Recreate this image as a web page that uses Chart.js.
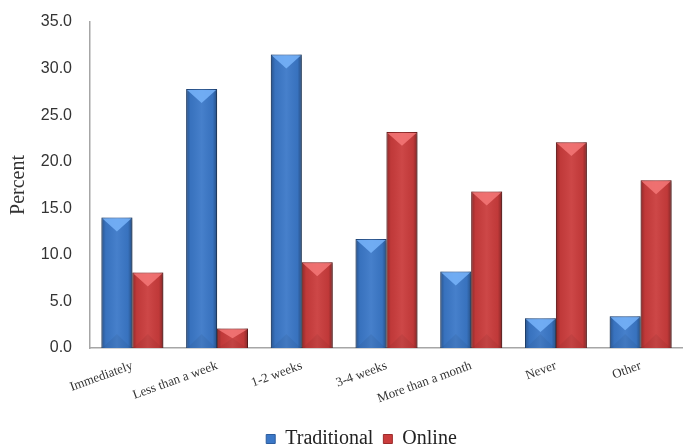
<!DOCTYPE html>
<html>
<head>
<meta charset="utf-8">
<script src="https://cdn.jsdelivr.net/npm/chart.js@4.4.1/dist/chart.umd.min.js"></script>
<style>
  html, body { margin: 0; padding: 0; background: #fff; }
  #wrap { width: 683px; height: 447px; }
</style>
</head>
<body>
<div id="wrap"><canvas id="chart"></canvas></div>
<script>
const categories = ['Immediately', 'Less than a week', '1-2 weeks', '3-4 weeks', 'More than a month', 'Never', 'Other'];
const traditional = [14.0, 27.8, 31.5, 11.7, 8.2, 3.2, 3.4];
const online = [8.1, 2.1, 9.2, 23.2, 16.8, 22.1, 18.0];
const yTicks = [0, 5, 10, 15, 20, 25, 30, 35];

// light bevel colour per dataset
const bevel = ['rgba(120,180,250,0.85)', 'rgba(245,120,120,0.85)'];

const bevelBars = {
  id: 'bevelBars',
  afterLayout(chart) {
    // legend sits a little right of the canvas centre
    chart.legend.left += 20;
    chart.legend.right += 20;
  },
  beforeDatasetDraw(chart) {
    const ctx = chart.ctx;
    ctx.save();
    ctx.shadowColor = 'rgba(0,0,0,0.35)';
    ctx.shadowBlur = 4;
    ctx.shadowOffsetX = 1;
    ctx.shadowOffsetY = 1;
  },
  afterDatasetDraw(chart, args) {
    const ctx = chart.ctx;
    ctx.restore();
    const meta = args.meta;
    meta.data.forEach(bar => {
      const w = bar.width;
      const left = bar.x - w / 2;
      const right = bar.x + w / 2;
      const top = bar.y;
      const h = bar.base - bar.y;
      // side shading
      const g = ctx.createLinearGradient(left, 0, right, 0);
      g.addColorStop(0, 'rgba(0,0,0,0.30)');
      g.addColorStop(0.14, 'rgba(0,0,0,0.05)');
      g.addColorStop(0.5, 'rgba(255,255,255,0.06)');
      g.addColorStop(0.86, 'rgba(0,0,0,0.05)');
      g.addColorStop(1, 'rgba(0,0,0,0.35)');
      ctx.fillStyle = g;
      ctx.fillRect(left, top, w, h);
      // top chevron
      const th = Math.min(w * 0.45, h * 0.5);
      ctx.beginPath();
      ctx.moveTo(left + 1, top + 1);
      ctx.lineTo(right - 1, top + 1);
      ctx.lineTo(bar.x, top + th);
      ctx.closePath();
      ctx.fillStyle = bevel[args.index];
      ctx.fill();
      // bottom chevron, faint
      ctx.beginPath();
      ctx.moveTo(left + 1, bar.base);
      ctx.lineTo(right - 1, bar.base);
      ctx.lineTo(bar.x, bar.base - th);
      ctx.closePath();
      ctx.fillStyle = 'rgba(0,0,0,0.05)';
      ctx.fill();
    });
  }
};

new Chart(document.getElementById('chart'), {
  type: 'bar',
  data: {
    labels: categories,
    datasets: [
      {
        label: 'Traditional',
        data: traditional,
        backgroundColor: '#3b78c8',
        borderColor: '#2d5d9e',
        borderWidth: 1,
        categoryPercentage: 0.73,
        barPercentage: 1.0
      },
      {
        label: 'Online',
        data: online,
        backgroundColor: '#ca3c3c',
        borderColor: '#9c2b2b',
        borderWidth: 1,
        categoryPercentage: 0.73,
        barPercentage: 1.0
      }
    ]
  },
  options: {
    responsive: true,
    maintainAspectRatio: false,
    animation: false,
    layout: { padding: { top: 22, right: 0, left: 0, bottom: -12 } },
    plugins: {
      tooltip: { enabled: false },
      legend: {
        position: 'bottom',
        labels: {
          boxWidth: 9,
          boxHeight: 9,
          padding: 10,
          color: '#222',
          font: { family: 'Liberation Serif', size: 20 }
        }
      }
    },
    scales: {
      x: {
        grid: { display: false, drawTicks: false },
        border: { display: true, color: '#a6a6a6', width: 1.5 },
        ticks: {
          color: '#333',
          padding: 10,
          minRotation: 20,
          maxRotation: 20,
          autoSkip: false,
          font: { family: 'Liberation Serif', size: 13 }
        },
        afterFit(axis) { axis.height = 71; }
      },
      y: {
        min: 0,
        max: 35,
        afterBuildTicks(axis) { axis.ticks = yTicks.map(v => ({ value: v })); },
        grid: { display: false, drawTicks: false },
        border: { display: true, color: '#a6a6a6', width: 1.5 },
        ticks: {
          color: '#333',
          padding: 18,
          font: { family: 'Liberation Sans', size: 16 },
          callback: v => v.toFixed(1)
        },
        title: {
          display: true,
          text: 'Percent',
          color: '#333',
          padding: { top: 7, bottom: 0 },
          font: { family: 'Liberation Serif', size: 20 }
        },
        afterFit(axis) {
          axis.width = 90;
          axis.paddingTop = 0;
          axis.paddingBottom = 0;
        }
      }
    }
  },
  plugins: [bevelBars]
});
</script>
</body>
</html>
